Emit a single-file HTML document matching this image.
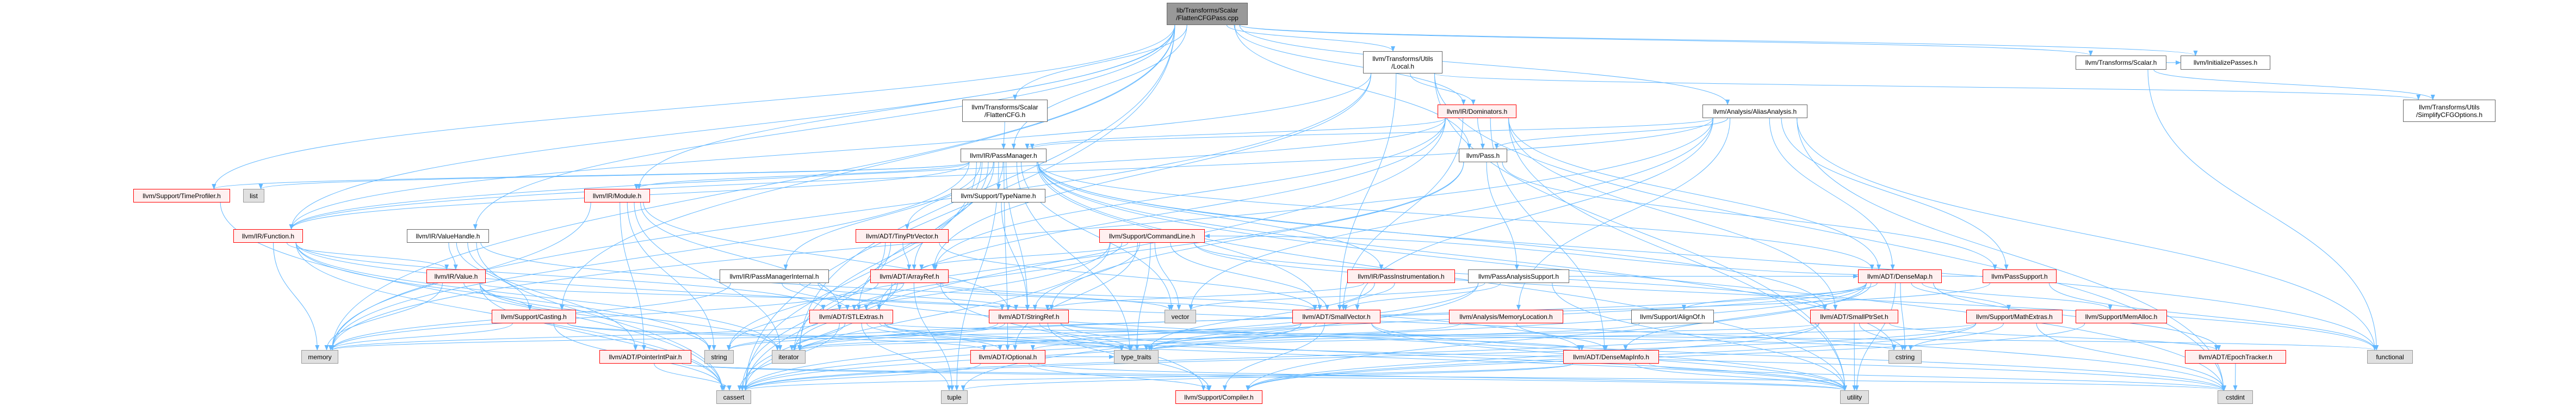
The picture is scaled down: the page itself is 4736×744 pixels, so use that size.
<!DOCTYPE html>
<html><head><meta charset="utf-8">
<style>
html,body{margin:0;padding:0;background:#fff;}
#c{position:relative;width:4736px;height:744px;overflow:hidden;background:#fff;}
.n{position:absolute;box-sizing:border-box;font-family:"Liberation Sans",Arial,sans-serif;font-size:12px;color:#000;display:flex;align-items:center;justify-content:center;text-align:center;line-height:14px;white-space:nowrap;z-index:2}
.r{background:#fff0f0;border:1px solid #ff0000;}
.w{background:#fff;border:1px solid #666;}
.g{background:#e0e0e0;border:1px solid #999;}
.root{background:#999;border:1px solid #666;}
svg{position:absolute;left:0;top:0;z-index:1}
</style></head><body><div id="c">
<svg id="s" width="4736" height="744" viewBox="0 0 4736 744">
<defs><marker id="a" markerWidth="10" markerHeight="8" refX="9" refY="4" orient="auto" markerUnits="userSpaceOnUse"><path d="M0,0 L10,4 L0,8 z" fill="#63b8ff"/></marker></defs>
<g id="e" fill="none" stroke="#63b8ff" stroke-width="1"></g>
</svg>
<div class="n root" id="root" style="left:2145px;top:5px;width:149px;height:41px">lib/Transforms/Scalar<br>/FlattenCFGPass.cpp</div>
<div class="n w" id="fcfg" style="left:1769px;top:183px;width:157px;height:41px">llvm/Transforms/Scalar<br>/FlattenCFG.h</div>
<div class="n w" id="pm" style="left:1766px;top:273px;width:158px;height:25px">llvm/IR/PassManager.h</div>
<div class="n w" id="tn" style="left:1749px;top:347px;width:173px;height:25px">llvm/Support/TypeName.h</div>
<div class="n r" id="tp" style="left:245px;top:347px;width:178px;height:25px">llvm/Support/TimeProfiler.h</div>
<div class="n g" id="list" style="left:447px;top:347px;width:39px;height:25px">list</div>
<div class="n r" id="fn" style="left:429px;top:421px;width:128px;height:25px">llvm/IR/Function.h</div>
<div class="n w" id="vh" style="left:748px;top:421px;width:151px;height:25px">llvm/IR/ValueHandle.h</div>
<div class="n r" id="val" style="left:784px;top:495px;width:109px;height:25px">llvm/IR/Value.h</div>
<div class="n r" id="mod" style="left:1074px;top:347px;width:121px;height:25px">llvm/IR/Module.h</div>
<div class="n r" id="cast" style="left:904px;top:569px;width:155px;height:25px">llvm/Support/Casting.h</div>
<div class="n r" id="pip" style="left:1102px;top:643px;width:169px;height:25px">llvm/ADT/PointerIntPair.h</div>
<div class="n g" id="str" style="left:1295px;top:643px;width:54px;height:25px">string</div>
<div class="n g" id="iter" style="left:1419px;top:643px;width:62px;height:25px">iterator</div>
<div class="n g" id="mem" style="left:554px;top:643px;width:68px;height:25px">memory</div>
<div class="n g" id="cas" style="left:1317px;top:717px;width:64px;height:25px">cassert</div>
<div class="n w" id="pmi" style="left:1323px;top:495px;width:201px;height:25px">llvm/IR/PassManagerInternal.h</div>
<div class="n r" id="stl" style="left:1488px;top:569px;width:154px;height:25px">llvm/ADT/STLExtras.h</div>
<div class="n r" id="tpv" style="left:1573px;top:421px;width:171px;height:25px">llvm/ADT/TinyPtrVector.h</div>
<div class="n r" id="ar" style="left:1600px;top:495px;width:144px;height:25px">llvm/ADT/ArrayRef.h</div>
<div class="n r" id="cl" style="left:2021px;top:421px;width:194px;height:25px">llvm/Support/CommandLine.h</div>
<div class="n r" id="sr" style="left:1818px;top:569px;width:147px;height:25px">llvm/ADT/StringRef.h</div>
<div class="n g" id="vec" style="left:2141px;top:569px;width:58px;height:25px">vector</div>
<div class="n r" id="opt" style="left:1784px;top:643px;width:138px;height:25px">llvm/ADT/Optional.h</div>
<div class="n g" id="tt" style="left:2048px;top:643px;width:82px;height:25px">type_traits</div>
<div class="n g" id="tup" style="left:1730px;top:717px;width:49px;height:25px">tuple</div>
<div class="n r" id="comp" style="left:2161px;top:717px;width:160px;height:25px">llvm/Support/Compiler.h</div>
<div class="n r" id="sv" style="left:2376px;top:569px;width:162px;height:25px">llvm/ADT/SmallVector.h</div>
<div class="n w" id="loc" style="left:2506px;top:94px;width:146px;height:41px">llvm/Transforms/Utils<br>/Local.h</div>
<div class="n r" id="dom" style="left:2643px;top:192px;width:145px;height:25px">llvm/IR/Dominators.h</div>
<div class="n w" id="pass" style="left:2682px;top:273px;width:89px;height:25px">llvm/Pass.h</div>
<div class="n r" id="pin" style="left:2477px;top:495px;width:198px;height:25px">llvm/IR/PassInstrumentation.h</div>
<div class="n w" id="pas" style="left:2699px;top:495px;width:186px;height:25px">llvm/PassAnalysisSupport.h</div>
<div class="n r" id="ml" style="left:2664px;top:569px;width:210px;height:25px">llvm/Analysis/MemoryLocation.h</div>
<div class="n w" id="al" style="left:2999px;top:569px;width:152px;height:25px">llvm/Support/AlignOf.h</div>
<div class="n r" id="dmi" style="left:2874px;top:643px;width:176px;height:25px">llvm/ADT/DenseMapInfo.h</div>
<div class="n w" id="aa" style="left:3130px;top:192px;width:193px;height:25px">llvm/Analysis/AliasAnalysis.h</div>
<div class="n w" id="sc" style="left:3816px;top:102px;width:167px;height:26px">llvm/Transforms/Scalar.h</div>
<div class="n r" id="dm" style="left:3416px;top:495px;width:154px;height:25px">llvm/ADT/DenseMap.h</div>
<div class="n r" id="ps" style="left:3645px;top:495px;width:136px;height:25px">llvm/PassSupport.h</div>
<div class="n r" id="sps" style="left:3328px;top:569px;width:162px;height:25px">llvm/ADT/SmallPtrSet.h</div>
<div class="n r" id="me" style="left:3615px;top:569px;width:177px;height:25px">llvm/Support/MathExtras.h</div>
<div class="n r" id="ma" style="left:3816px;top:569px;width:168px;height:25px">llvm/Support/MemAlloc.h</div>
<div class="n g" id="cstr" style="left:3472px;top:643px;width:61px;height:25px">cstring</div>
<div class="n g" id="util" style="left:3383px;top:717px;width:53px;height:25px">utility</div>
<div class="n w" id="ip" style="left:4009px;top:102px;width:165px;height:26px">llvm/InitializePasses.h</div>
<div class="n w" id="scfg" style="left:4418px;top:183px;width:170px;height:41px">llvm/Transforms/Utils<br>/SimplifyCFGOptions.h</div>
<div class="n r" id="et" style="left:4017px;top:643px;width:186px;height:25px">llvm/ADT/EpochTracker.h</div>
<div class="n g" id="func" style="left:4352px;top:643px;width:84px;height:25px">functional</div>
<div class="n g" id="cint" style="left:4077px;top:717px;width:65px;height:25px">cstdint</div>
</div>
<script>
(function(){
var E={
root:"fcfg pm loc dom pass aa sc ip fn vh mod cast iter cas mem tp",
fcfg:"pm",
pm:"tp list fn mod tn tpv pmi pin ar stl sr sps dm vec tt tup util mem cstr iter cas func cint opt sv",
loc:"dom sv scfg util cint fn ar mem",
dom:"pass pm dm dmi sps sv ar stl fn cas util",
aa:"pass pm dm sv ml fn func cint mem vec ps",
pass:"pas ps sr str",
pas:"sv cas tup util vec dm",
ps:"cl func str",
sc:"scfg func ip",
cl:"ar stl sr sps sv opt tt vec str cas func",
fn:"mem cas cint str val stl iter",
vh:"val pip dmi cast cas",
val:"cast sr iter mem cas str",
mod:"stl sr iter mem str pip",
cast:"opt cas mem tt",
pip:"cas cint util",
tpv:"ar sv cas iter",
ar:"stl sv comp iter mem vec cas tup",
stl:"opt iter tup util cas cint func mem tt",
sr:"dmi comp str cstr iter tt util",
sv:"comp tt cas mem cint util iter",
ml:"dmi opt",
al:"tt",
dmi:"cint util tup cas",
dm:"dmi et al comp me ma tt util cstr cas iter",
sps:"et comp cas cstr util iter",
me:"comp cstr cint tt cas",
ma:"comp",
et:"cint",
opt:"comp tt util cas",
pmi:"stl sr mem util",
pin:"sv sr tt",
tn:"sr",
tp:"cas"
};
function r(id){var d=document.getElementById(id);return{x:d.offsetLeft,y:d.offsetTop,w:d.offsetWidth,h:d.offsetHeight};}
var g=document.getElementById('e'),ns='http://www.w3.org/2000/svg';
function cl(v,a){return Math.max(-a,Math.min(a,v));}
for(var s in E){var S=r(s);E[s].split(' ').forEach(function(t){
 var T=r(t),scx=S.x+S.w/2,tcx=T.x+T.w/2,d;
 if(T.y>S.y+S.h){
  var sx=scx+cl((tcx-scx)*0.1,S.w/2.5),sy=S.y+S.h;
  var ex=tcx+cl((scx-tcx)*0.05,T.w/3),ey=T.y;
  var my=(sy+ey)/2;
  d='M'+sx+','+sy+' C'+sx+','+my+' '+ex+','+my+' '+ex+','+ey;
 } else {
  var sy2=S.y+S.h/2,ey2=T.y+T.h/2,sx2,ex2;
  if(tcx>scx){sx2=S.x+S.w;ex2=T.x;}else{sx2=S.x;ex2=T.x+T.w;}
  d='M'+sx2+','+sy2+' C'+(sx2+ex2)/2+','+sy2+' '+(sx2+ex2)/2+','+ey2+' '+ex2+','+ey2;
 }
 var p=document.createElementNS(ns,'path');p.setAttribute('d',d);p.setAttribute('marker-end','url(#a)');g.appendChild(p);
});}
})();
</script>
</body></html>
